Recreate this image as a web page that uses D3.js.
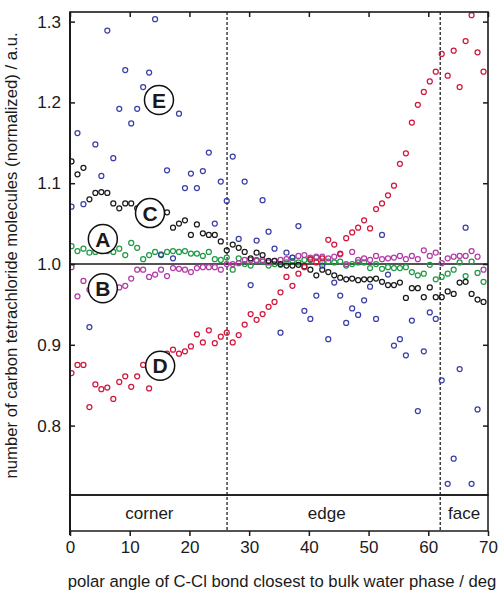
<!DOCTYPE html>
<html>
<head>
<meta charset="utf-8">
<script src="https://cdn.jsdelivr.net/npm/d3@7"></script>
<style>
  body { margin: 0; background: #fff; }
  text { font-family: "Liberation Sans", Arial, sans-serif; fill: #1a1a1a; }
</style>
</head>
<body>
<div id="chart"></div>
<script>
// bin centres (deg) of the polar angle histogram
var angles = d3.range(70).map(function(i) { return i + 0.25; });

var seriesA = [1.022,1.016,1.019,1.014,1.015,1.016,1.016,1.015,1.019,1.011,
  1.026,1.020,1.006,1.011,1.015,1.012,1.015,1.016,1.015,1.016,
  1.013,1.013,1.010,1.015,1.006,1.005,1.008,0.993,1.007,1.000,
  0.998,1.004,1.003,0.998,1.000,0.999,1.002,1.004,1.002,1.005,
  1.005,1.008,1.002,1.003,1.002,1.003,0.998,1.000,1.002,1.002,
  0.995,1.000,0.994,0.996,0.995,0.995,0.996,0.990,0.986,0.988,
  0.999,0.981,0.984,0.988,0.993,1.002,0.985,1.003,0.989,0.978];

var seriesB = [0.996,0.960,0.979,0.968,0.967,0.967,0.968,0.966,0.971,0.973,
  0.982,0.993,0.993,0.984,0.987,0.993,0.985,0.995,0.994,0.993,
  0.990,0.995,0.996,0.996,0.996,0.993,1.000,1.000,1.001,1.005,
  1.005,1.005,1.005,1.002,1.004,1.005,1.006,1.008,1.010,1.011,
  1.008,1.009,1.009,1.007,1.009,1.012,1.000,1.015,1.005,1.007,
  1.005,1.010,1.006,1.007,1.008,1.010,1.006,1.010,1.006,1.017,
  1.010,1.014,1.001,1.007,1.009,1.010,1.010,1.016,1.009,0.993];

var seriesC = [1.127,1.111,1.119,1.080,1.088,1.089,1.088,1.075,1.069,1.075,
  1.075,1.069,1.066,1.064,1.063,1.063,1.064,1.045,1.050,1.054,
  1.036,1.049,1.038,1.036,1.036,1.028,1.017,1.024,1.020,1.015,
  1.007,1.014,1.011,1.004,1.004,1.000,0.998,0.998,0.999,0.997,
  0.993,0.986,0.993,0.990,0.986,0.983,0.981,0.982,0.980,0.981,
  0.981,0.982,0.978,0.974,0.974,0.977,0.958,0.970,0.970,0.959,
  0.971,0.959,0.959,0.966,0.963,0.977,0.978,0.963,0.956,0.953];

var seriesD = [0.865,0.875,0.875,0.823,0.851,0.845,0.847,0.833,0.854,0.861,
  0.848,0.861,0.875,0.846,0.878,0.884,0.889,0.894,0.889,0.892,
  0.898,0.913,0.903,0.918,0.902,0.910,0.915,0.903,0.912,0.925,
  0.938,0.931,0.938,0.947,0.953,0.965,0.984,0.973,0.988,0.996,
  1.006,1.002,1.007,1.030,1.024,1.013,1.032,1.039,1.045,1.054,
  1.044,1.068,1.075,1.085,1.097,1.124,1.137,1.175,1.197,1.213,
  1.226,1.238,1.260,1.233,1.264,1.219,1.276,1.308,1.262,1.238];

var seriesE = [1.071,1.162,1.074,0.922,1.148,1.109,1.289,1.131,1.192,1.240,
  1.174,1.192,1.219,1.237,1.303,1.011,1.116,1.007,1.186,1.094,
  1.112,1.094,1.115,1.138,1.050,1.102,1.078,1.133,1.031,1.102,
  0.974,1.029,1.079,1.040,1.019,0.915,1.014,1.008,1.047,0.942,
  0.932,0.961,0.998,0.907,0.977,0.961,0.927,0.945,0.937,0.955,
  0.972,0.932,1.036,0.987,0.899,0.907,0.887,0.930,0.818,0.892,
  0.940,0.932,0.856,0.728,0.759,0.870,1.045,0.728,0.820,0.690];

var seriesNames = ["A", "B", "C", "D", "E"];
var seriesColors = ["#1f9a45", "#b33aa6", "#1a1a1a", "#d2163c", "#3a3fa6"];

// letter labels: name, angle, value
var labelNames = ["E", "C", "A", "B", "D"];
var labelAngles = [14.9, 13.4, 5.5, 5.5, 15.1];
var labelValues = [1.203, 1.063, 1.031, 0.970, 0.874];

var xTicks = [0, 10, 20, 30, 40, 50, 60, 70];
var yTicks = [0.8, 0.9, 1.0, 1.1, 1.2, 1.3];

var regionBounds = [26.3, 62.0];
var regionNames = ["corner", "edge", "face"];
var regionCenters = [13.3, 43, 66];

var W = 500, H = 593;
var pL = 70, pR = 488, pT = 12, pB = 495;
var bandTop = pB, bandBottom = 531;

var svg = d3.select("#chart").append("svg")
  .attr("width", W).attr("height", H);

var x = d3.scaleLinear().domain([0, 70]).range([pL, pR]);
var y = d3.scaleLinear().domain([0.7141, 1.3119]).range([pB, pT]);

svg.append("clipPath").attr("id", "clip")
  .append("rect").attr("x", pL).attr("y", pT)
  .attr("width", pR - pL).attr("height", pB - pT);

// reference line at 1.0
svg.append("line")
  .attr("x1", pL).attr("x2", pR)
  .attr("y1", y(1)).attr("y2", y(1))
  .attr("stroke", "#1a1a1a").attr("stroke-width", 1.6);

// dashed region boundaries (through plot and band)
svg.selectAll(".bound")
  .data(regionBounds)
  .enter().append("line")
  .attr("class", "bound")
  .attr("x1", function(d) { return x(d); })
  .attr("x2", function(d) { return x(d); })
  .attr("y1", pT).attr("y2", bandBottom)
  .attr("stroke", "#222").attr("stroke-width", 1.3)
  .attr("stroke-dasharray", "3,2");

// points
var allSeries = [seriesA, seriesB, seriesC, seriesD, seriesE];
var pts = svg.append("g").attr("clip-path", "url(#clip)");
allSeries.forEach(function(vals, s) {
  pts.selectAll(".p" + s)
    .data(vals)
    .enter().append("circle")
    .attr("class", "p" + s)
    .attr("cx", function(d, i) { return x(angles[i]); })
    .attr("cy", function(d) { return y(d); })
    .attr("r", 2.5)
    .attr("fill", "none")
    .attr("stroke", seriesColors[s])
    .attr("stroke-width", 1.25);
});

// letter labels
var lab = svg.selectAll(".lab")
  .data(labelNames)
  .enter().append("g")
  .attr("class", "lab")
  .attr("transform", function(d, i) {
    return "translate(" + x(labelAngles[i]) + "," + y(labelValues[i]) + ")";
  });
lab.append("circle").attr("r", 14.5)
  .attr("fill", "#fff").attr("stroke", "#111").attr("stroke-width", 1.5);
lab.append("text")
  .attr("text-anchor", "middle").attr("dy", "0.36em")
  .style("font-size", "21px").style("font-weight", "bold")
  .text(function(d) { return d; });

// frame
svg.append("rect")
  .attr("x", pL).attr("y", pT)
  .attr("width", pR - pL).attr("height", pB - pT)
  .attr("fill", "none").attr("stroke", "#1a1a1a").attr("stroke-width", 1.6);
svg.append("line").attr("x1", pL).attr("x2", pL)
  .attr("y1", pT).attr("y2", bandBottom + 4)
  .attr("stroke", "#1a1a1a").attr("stroke-width", 2);

// region band
svg.append("rect")
  .attr("x", pL).attr("y", bandTop)
  .attr("width", pR - pL).attr("height", bandBottom - bandTop)
  .attr("fill", "none").attr("stroke", "#1a1a1a").attr("stroke-width", 1.5);
svg.selectAll(".region")
  .data(regionNames)
  .enter().append("text")
  .attr("class", "region")
  .attr("x", function(d, i) { return x(regionCenters[i]); })
  .attr("y", 519)
  .attr("text-anchor", "middle")
  .style("font-size", "17px")
  .text(function(d) { return d; });

// y axes (ticks inward on both sides)
var yl = svg.append("g").attr("transform", "translate(" + pL + ",0)")
  .call(d3.axisLeft(y).tickValues(yTicks).tickSize(-5).tickPadding(9)
    .tickFormat(d3.format(".1f")));
yl.select(".domain").remove();
yl.selectAll("text").style("font-size", "17px").style("font-family", "Liberation Sans, Arial, sans-serif").attr("fill", "#1a1a1a");
yl.selectAll("line").attr("stroke", "#1a1a1a").attr("stroke-width", 1.5);

var yr = svg.append("g").attr("transform", "translate(" + pR + ",0)")
  .call(d3.axisRight(y).tickValues(yTicks).tickSize(-5).tickFormat(""));
yr.select(".domain").remove();
yr.selectAll("line").attr("stroke", "#1a1a1a").attr("stroke-width", 1.5);

// x axes: top ticks inward, bottom ticks below band
var xt = svg.append("g").attr("transform", "translate(0," + pT + ")")
  .call(d3.axisTop(x).tickValues(xTicks).tickSize(-5).tickFormat(""));
xt.select(".domain").remove();
xt.selectAll("line").attr("stroke", "#1a1a1a").attr("stroke-width", 1.5);

var xb = svg.append("g").attr("transform", "translate(0," + bandBottom + ")")
  .call(d3.axisBottom(x).tickValues(xTicks).tickSize(5).tickPadding(5));
xb.select(".domain").remove();
xb.selectAll("text").style("font-size", "17px").style("font-family", "Liberation Sans, Arial, sans-serif").attr("fill", "#1a1a1a");
xb.selectAll("line").attr("stroke", "#1a1a1a").attr("stroke-width", 1.5);

// axis titles
svg.append("text")
  .attr("x", (pL + pR) / 2 + 3).attr("y", 587)
  .attr("text-anchor", "middle")
  .style("font-size", "16.7px")
  .text("polar angle of C-Cl bond closest to bulk water phase / deg");

svg.append("text")
  .attr("transform", "translate(17," + ((pT + pB) / 2 + 2) + ") rotate(-90)")
  .attr("text-anchor", "middle")
  .style("font-size", "16.7px")
  .text("number of carbon tetrachloride molecules (normalized) / a.u.");
</script>
</body>
</html>
